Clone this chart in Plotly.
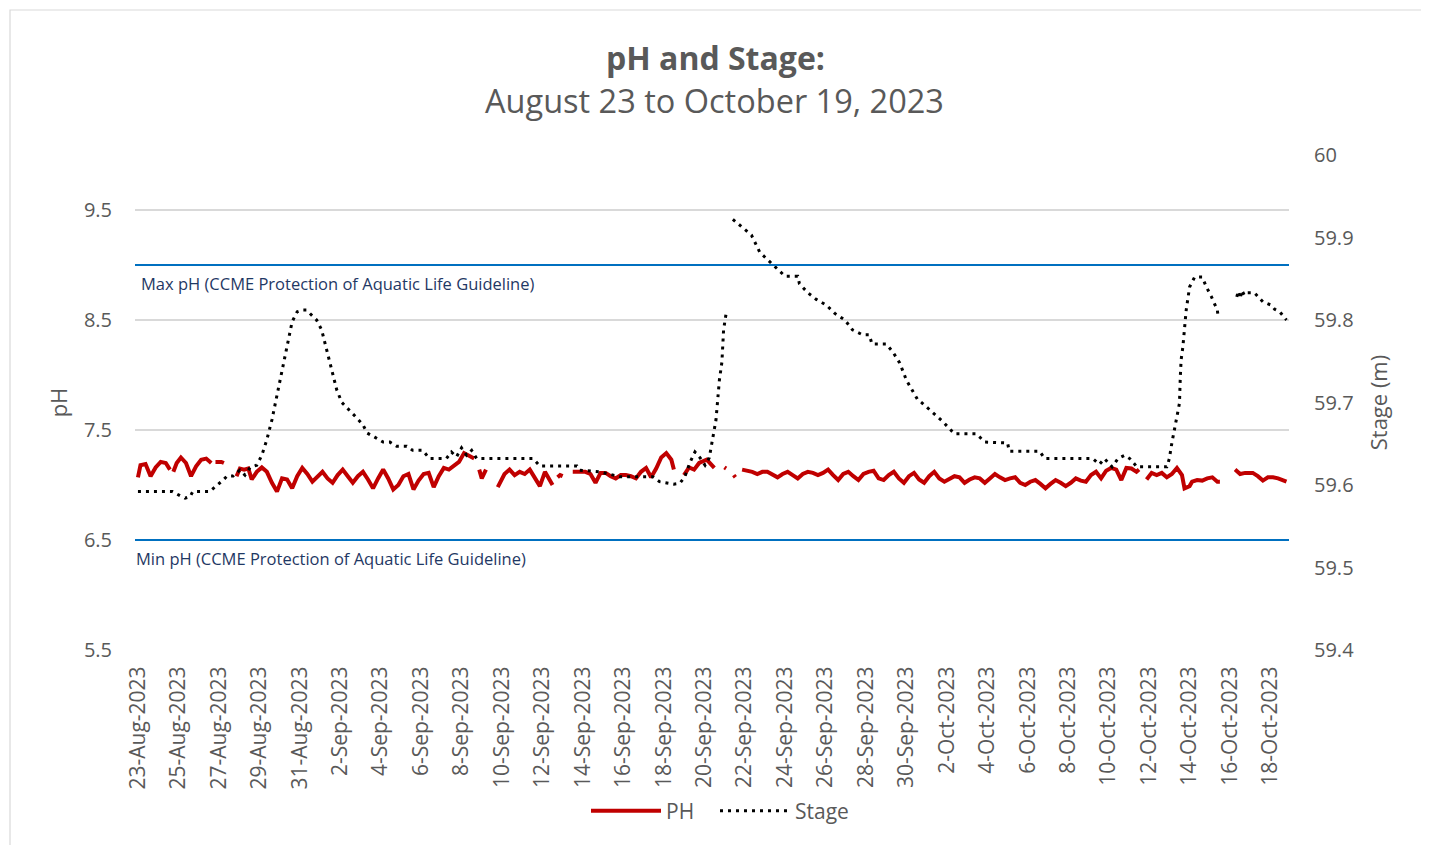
import pandas as pd
import plotly.graph_objects as go

# ---------------- data ----------------
# pH (times as "MM-DD HH", year 2023); None = gap in record
ph_time = [
    "08-23 00", "08-23 03", "08-23 09", "08-23 15", "08-23 21",
    "08-24 03", "08-24 09", "08-24 14", "08-24 16", "08-24 18", "08-24 22",
    "08-25 03", "08-25 09", "08-25 15", "08-25 21",
    "08-26 03", "08-26 09", "08-26 15", "08-26 18", "08-26 20",
    "08-27 03", "08-27 06", "08-27 08", "08-27 21",
    "08-28 01", "08-28 06", "08-28 11", "08-28 15", "08-28 21",
    "08-29 03", "08-29 09", "08-29 15", "08-29 21",
    "08-30 03", "08-30 09", "08-30 15", "08-30 21",
    "08-31 03", "08-31 09", "08-31 15", "08-31 21",
    "09-01 03", "09-01 09", "09-01 15", "09-01 21",
    "09-02 03", "09-02 09", "09-02 15", "09-02 21",
    "09-03 03", "09-03 09", "09-03 15", "09-03 21",
    "09-04 03", "09-04 09", "09-04 15", "09-04 21",
    "09-05 03", "09-05 09", "09-05 15", "09-05 21",
    "09-06 03", "09-06 09", "09-06 15", "09-06 21",
    "09-07 03", "09-07 09", "09-07 15", "09-07 21",
    "09-08 03", "09-08 09", "09-08 15", "09-08 18", "09-08 21",
    "09-09 00", "09-09 05", "09-09 08", "09-09 19",
    "09-10 03", "09-10 09", "09-10 15", "09-10 21",
    "09-11 03", "09-11 09", "09-11 15", "09-11 21",
    "09-12 03", "09-12 09", "09-12 12", "09-12 15", "09-12 18", "09-12 21",
    "09-13 00", "09-13 03", "09-13 12", "09-13 18",
    "09-14 03", "09-14 09", "09-14 15", "09-14 21",
    "09-15 03", "09-15 09", "09-15 15", "09-15 21",
    "09-16 03", "09-16 09", "09-16 15", "09-16 21",
    "09-17 03", "09-17 09", "09-17 15", "09-17 21",
    "09-18 03", "09-18 09", "09-18 12", "09-18 15",
    "09-19 00", "09-19 06", "09-19 12", "09-19 18",
    "09-20 03", "09-20 09", "09-20 12", "09-20 15",
    "09-21 00", "09-21 02", "09-21 05", "09-21 11", "09-21 13", "09-21 16", "09-21 21",
    "09-22 03", "09-22 09", "09-22 15", "09-22 21",
    "09-23 03", "09-23 09", "09-23 15", "09-23 21",
    "09-24 03", "09-24 09", "09-24 15", "09-24 21",
    "09-25 03", "09-25 09", "09-25 15", "09-25 21",
    "09-26 03", "09-26 09", "09-26 15", "09-26 21",
    "09-27 03", "09-27 09", "09-27 15", "09-27 21",
    "09-28 03", "09-28 09", "09-28 15", "09-28 21",
    "09-29 03", "09-29 09", "09-29 15", "09-29 21",
    "09-30 03", "09-30 09", "09-30 15", "09-30 21",
    "10-01 03", "10-01 09", "10-01 15", "10-01 21",
    "10-02 03", "10-02 09", "10-02 15", "10-02 21",
    "10-03 03", "10-03 09", "10-03 15", "10-03 21",
    "10-04 03", "10-04 09", "10-04 15", "10-04 21",
    "10-05 03", "10-05 09", "10-05 15", "10-05 21",
    "10-06 03", "10-06 09", "10-06 15", "10-06 21",
    "10-07 03", "10-07 09", "10-07 15", "10-07 21",
    "10-08 03", "10-08 09", "10-08 15", "10-08 21",
    "10-09 03", "10-09 09", "10-09 15", "10-09 21",
    "10-10 03", "10-10 09", "10-10 15", "10-10 21",
    "10-11 03", "10-11 09", "10-11 12", "10-11 15", "10-11 21",
    "10-12 03", "10-12 09", "10-12 15", "10-12 21",
    "10-13 03", "10-13 09", "10-13 15", "10-13 18", "10-13 21",
    "10-14 00", "10-14 03", "10-14 09", "10-14 15", "10-14 21",
    "10-15 03", "10-15 09", "10-15 12", "10-15 14",
    "10-16 06", "10-16 12", "10-16 18",
    "10-17 03", "10-17 09", "10-17 15", "10-17 21",
    "10-18 03", "10-18 09", "10-18 15", "10-18 19",
]
ph_value = [
    7.07, 7.18, 7.19, 7.08, 7.16,
    7.21, 7.20, 7.14, None, 7.12, 7.20,
    7.25, 7.20, 7.08, 7.17,
    7.23, 7.24, 7.20, None, 7.21,
    7.21, 7.20, None, 7.08,
    7.15, 7.14, 7.15, 7.05, 7.12,
    7.16, 7.12, 7.02, 6.94,
    7.06, 7.05, 6.97, 7.08,
    7.155, 7.10, 7.03, 7.08,
    7.12, 7.06, 7.02, 7.09,
    7.14, 7.08, 7.02, 7.08,
    7.12, 7.05, 6.97, 7.06,
    7.14, 7.06, 6.96, 7.00,
    7.08, 7.10, 6.96, 7.04,
    7.10, 7.11, 6.98, 7.08,
    7.155, 7.14, 7.17, 7.21,
    7.29, 7.26, 7.24, None, 7.14,
    7.06, 7.14, None, 6.98,
    7.10, 7.14, 7.09, 7.12,
    7.10, 7.14, 7.06, 6.99,
    7.12, 7.04, 7.00, None, 7.07, 7.09,
    7.08, None, 7.12, 7.12,
    7.12, 7.10, 7.02, 7.11,
    7.11, 7.08, 7.06, 7.09,
    7.09, 7.08, 7.06, 7.12,
    7.155, 7.07, 7.15, 7.25,
    7.29, 7.23, 7.14, None,
    7.09, 7.16, 7.14, 7.20,
    7.23, 7.18, 7.155, None,
    7.16, 7.15, None, 7.09, 7.07, None, 7.14,
    7.13, 7.12, 7.10, 7.12,
    7.12, 7.09, 7.07, 7.10,
    7.12, 7.09, 7.06, 7.10,
    7.12, 7.11, 7.09, 7.11,
    7.14, 7.09, 7.045, 7.10,
    7.12, 7.08, 7.045, 7.10,
    7.12, 7.13, 7.06, 7.045,
    7.09, 7.12, 7.06, 7.02,
    7.08, 7.11, 7.05, 7.02,
    7.08, 7.12, 7.06, 7.03,
    7.06, 7.08, 7.07, 7.02,
    7.05, 7.07, 7.06, 7.02,
    7.06, 7.10, 7.07, 7.045,
    7.06, 7.07, 7.02, 7.00,
    7.03, 7.045, 7.01, 6.97,
    7.01, 7.045, 7.02, 6.99,
    7.02, 7.06, 7.04, 7.03,
    7.09, 7.12, 7.06, 7.13,
    7.155, 7.14, 7.045, 7.155,
    7.15, 7.12, 7.14, None, 7.05,
    7.11, 7.09, 7.11, 7.07,
    7.10, 7.155, 7.09, 6.97, 6.98,
    6.99, 7.03, 7.045, 7.04, 7.06,
    7.07, 7.03, 7.03, None,
    7.14, 7.10, 7.11,
    7.11, 7.08, 7.04, 7.07,
    7.07, 7.06, 7.04, 7.03,
]

# Stage (m)
stage_time = [
    "08-23 00", "08-24 17", "08-25 02", "08-25 08", "08-25 14", "08-25 17",
    "08-26 13", "08-26 19", "08-27 04", "08-27 10", "08-27 17",
    "08-28 01", "08-28 07", "08-28 13", "08-28 21",
    "08-29 03", "08-29 09", "08-29 15", "08-29 21",
    "08-30 03", "08-30 09", "08-30 15", "08-30 21",
    "08-31 03", "08-31 08", "08-31 14", "08-31 20",
    "09-01 02", "09-01 08", "09-01 14", "09-01 20",
    "09-02 02", "09-02 11", "09-02 20", "09-03 03", "09-03 08", "09-03 17",
    "09-04 03", "09-04 11", "09-04 19", "09-05 07", "09-05 14",
    "09-06 02", "09-06 10", "09-07 06", "09-07 12", "09-07 18",
    "09-08 00", "09-08 06", "09-08 12", "09-08 18", "09-09 01",
    "09-11 13", "09-11 21", "09-13 17", "09-13 20", "09-14 20", "09-15 20",
    "09-17 11", "09-17 19", "09-18 04", "09-18 12", "09-18 19",
    "09-19 01", "09-19 07", "09-19 13", "09-19 19",
    "09-20 01", "09-20 06", "09-20 10", "09-20 14", "09-20 16", "09-20 18",
    "09-20 21", "09-20 23", "09-21 02", "09-21 05",
    "09-21 10", "09-21 21", "09-22 08", "09-22 18", "09-23 03", "09-23 14",
    "09-24 00", "09-24 15", "09-24 17", "09-25 03", "09-25 13",
    "09-26 01", "09-26 11", "09-26 23", "09-27 08", "09-27 20",
    "09-28 04", "09-28 07", "09-29 00", "09-29 08", "09-29 16",
    "09-30 00", "09-30 13", "09-30 19", "10-01 04", "10-01 19",
    "10-02 09", "10-03 11", "10-03 21", "10-05 00", "10-05 02",
    "10-06 14", "10-06 20", "10-09 05", "10-09 13", "10-09 19",
    "10-10 04", "10-10 11", "10-10 19", "10-11 01", "10-11 07", "10-11 09",
    "10-12 21", "10-13 00", "10-13 03", "10-13 07", "10-13 12", "10-13 13",
    "10-13 14", "10-13 16", "10-13 18", "10-13 20",
    "10-14 00", "10-14 06", "10-14 15", "10-14 20",
    "10-15 02", "10-15 09", "10-15 10", "10-15 12",
    "10-16 08", "10-16 10", "10-16 12", "10-16 14", "10-16 17", "10-16 20",
    "10-17 05", "10-17 15", "10-18 01", "10-18 05", "10-18 11", "10-18 19",
]
stage_value = [
    59.592, 59.592, 59.587, 59.584, 59.586, 59.592,
    59.592, 59.597, 59.605, 59.611, 59.611,
    59.618, 59.612, 59.621, 59.624,
    59.636, 59.655, 59.679, 59.709,
    59.739, 59.772, 59.798, 59.810,
    59.812, 59.812, 59.806, 59.800,
    59.788, 59.764, 59.737, 59.715,
    59.700, 59.691, 59.681, 59.673, 59.663, 59.658,
    59.652, 59.652, 59.647, 59.647, 59.642,
    59.642, 59.632, 59.632, 59.640, 59.634,
    59.645, 59.636, 59.642, 59.632, 59.632,
    59.632, 59.623, 59.623, 59.618, 59.616, 59.610,
    59.610, 59.604, 59.602, 59.601, 59.602,
    59.610, 59.627, 59.640, 59.633,
    59.624, 59.633, 59.655, 59.679, 59.703, 59.727,
    59.749, 59.788, 59.808, None,
    59.922, 59.912, 59.903, 59.882, 59.873, 59.863,
    59.853, 59.853, 59.844, 59.833, 59.825,
    59.818, 59.808, 59.800, 59.788, 59.782,
    59.782, 59.771, 59.771, 59.761, 59.748,
    59.727, 59.704, 59.699, 59.691, 59.677,
    59.662, 59.662, 59.652, 59.651, 59.641,
    59.641, 59.632, 59.632, 59.625, 59.632,
    59.622, 59.632, 59.636, 59.632, 59.625, 59.622,
    59.622, 59.632, 59.651, 59.673, 59.699, 59.731,
    59.752, 59.767, 59.788, 59.812,
    59.840, 59.852, 59.852, 59.840,
    59.828, 59.812, 59.802, None,
    59.828, 59.835, 59.826, 59.836, 59.830, 59.833,
    59.833, 59.822, 59.818, 59.813, 59.810, 59.800,
]

max_ph = 9.0
min_ph = 6.5
max_label = "Max pH (CCME Protection of Aquatic Life Guideline)"
min_label = "Min pH (CCME Protection of Aquatic Life Guideline)"
title_line1 = "pH and Stage:"
title_line2 = "August 23 to October 19, 2023"
x_start = "2023-08-22 20:30"
x_end = "2023-10-18 22:00"

# ---------------- figure ----------------
ph_dt = pd.to_datetime(["2023-" + t + ":00" for t in ph_time])
st_dt = pd.to_datetime(["2023-" + t + ":00" for t in stage_time])

FONT = "Open Sans"
GRAY = "#595959"

# page has an 8px body margin; plot area in page pixels: x 135..1289, y 155..650
W, H = 1421, 837
PL, PR, PT, PB = 135, 1289, 155, 650
PW, PHh = PR - PL, PB - PT


def px_x(px):
    return (px - PL) / PW


def px_y(py):
    return (PB - py) / PHh


fig = go.Figure()
fig.add_trace(go.Scatter(
    x=ph_dt, y=ph_value, name="PH", mode="lines", legend="legend",
    line=dict(color="#C00000", width=4), connectgaps=False, yaxis="y"))
fig.add_trace(go.Scatter(
    x=st_dt, y=stage_value, name="Stage", mode="lines", legend="legend2",
    line=dict(color="#000000", width=3, dash="3px,5px"), connectgaps=False, yaxis="y2"))

# guideline lines
for v in (max_ph, min_ph):
    fig.add_shape(type="line", xref="paper", x0=0, x1=1, yref="y", y0=v, y1=v,
                  line=dict(color="#0070C0", width=2.2), layer="above")

fig.add_annotation(text=max_label, xref="paper", x=px_x(139), yref="y", y=max_ph,
                   xanchor="left", yanchor="top", yshift=-5, showarrow=False,
                   font=dict(family=FONT, size=16.5, color="#1F3864"))
fig.add_annotation(text=min_label, xref="paper", x=px_x(134), yref="y", y=min_ph,
                   xanchor="left", yanchor="top", yshift=-5, showarrow=False,
                   font=dict(family=FONT, size=16.5, color="#1F3864"))

# titles
fig.add_annotation(text="<b>" + title_line1 + "</b>", xref="paper", x=px_x(715), yref="paper",
                   y=px_y(57), xanchor="center", yanchor="middle", showarrow=False,
                   font=dict(family=FONT, size=32, color=GRAY))
fig.add_annotation(text=title_line2, xref="paper", x=px_x(714), yref="paper",
                   y=px_y(101), xanchor="center", yanchor="middle", showarrow=False,
                   font=dict(family=FONT, size=32.5, color=GRAY))

# outer chart border
fig.add_shape(type="rect", xref="paper", yref="paper",
              x0=px_x(10), x1=px_x(1422), y0=px_y(860), y1=px_y(10),
              line=dict(color="#D9D9D9", width=1.2), layer="below")

legend_common = dict(orientation="h", xanchor="left", y=px_y(811), yanchor="middle",
                     font=dict(family=FONT, size=21, color=GRAY), itemwidth=70,
                     bgcolor="rgba(0,0,0,0)")

fig.update_layout(
    width=W, height=H,
    margin=dict(l=PL - 8, r=W - (PR - 8), t=PT - 8, b=H - (PB - 8), autoexpand=False),
    paper_bgcolor="white", plot_bgcolor="white",
    font=dict(family=FONT, color=GRAY),
    showlegend=True,
    legend=dict(x=px_x(586), **legend_common),
    legend2=dict(x=px_x(715), **legend_common),
    xaxis=dict(type="date", range=[x_start, x_end], tick0="2023-08-23", dtick=2 * 86400000,
               tickformat="%-d-%b-%Y", tickangle=-90, showgrid=False, zeroline=False,
               showline=False, ticks="outside", ticklen=7, tickcolor="rgba(0,0,0,0)",
               tickfont=dict(family=FONT, size=21, color=GRAY)),
    yaxis=dict(range=[5.5, 10.0], tick0=5.5, dtick=1, showgrid=True, gridcolor="#D9D9D9",
               gridwidth=1.5, zeroline=False, showline=False, ticks="outside", ticklen=18,
               tickcolor="rgba(0,0,0,0)", tickfont=dict(family=FONT, size=20, color=GRAY),
               title=dict(text="pH", standoff=10, font=dict(family=FONT, size=22, color=GRAY))),
    yaxis2=dict(range=[59.4, 60.0], tick0=59.4, dtick=0.1, overlaying="y", side="right",
                showgrid=False, zeroline=False, showline=False, ticks="outside", ticklen=20,
                tickcolor="rgba(0,0,0,0)", tickfont=dict(family=FONT, size=20, color=GRAY),
                title=dict(text="Stage (m)", standoff=18,
                           font=dict(family=FONT, size=22, color=GRAY))),
)

fig.write_html("out.html")
